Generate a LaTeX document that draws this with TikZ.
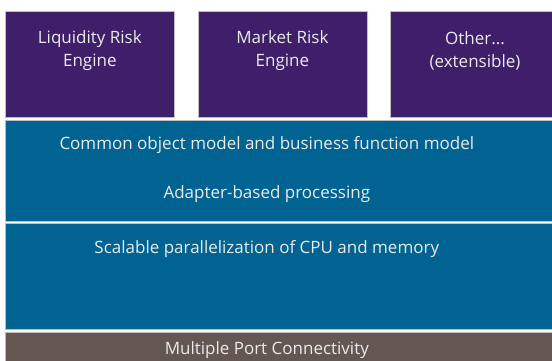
\documentclass[tikz,border=0pt]{standalone}
\usepackage{fontspec}
\setmainfont{Open Sans}
\usetikzlibrary{positioning}
\definecolor{stkpurple}{HTML}{3F1F69}
\definecolor{stkteal}{HTML}{006392}
\definecolor{stkbrown}{HTML}{645650}

\begin{document}
\begin{tikzpicture}[x=1pt,y=1pt,node distance=23pt,
    eng/.style={draw=black!25,fill=stkpurple,line width=.6pt,inner sep=0pt,
      minimum width=169pt,minimum height=106pt},
    layer/.style={draw=black!25,fill=stkteal,line width=.6pt,inner sep=0pt,
      anchor=north west,minimum width=560pt},
    t/.style={text=white!92!black,align=center,inner sep=0pt,
      font=\fontsize{17}{23}\selectfont}]
    \useasboundingbox (0,0) rectangle (552,360);
    \clip (0,0) rectangle (552,360);
    % engines on top
    \node[eng,anchor=north west] (liq) at (5,349) {};
    \node[eng,right=of liq] (mkt) {};
    \node[eng,right=of mkt] (oth) {};
    \node[t] (liqt) at ([yshift=-40pt]liq.north) {Liquidity Risk\\Engine};
    \node[t] (mktt) at ([yshift=-40pt]mkt.north) {Market Risk\\Engine};
    \node[t] (otht) at ([yshift=-40pt]oth.north) {Other...\\(extensible)};
    % shared layers, labels sit a bit left of the layer centre
    \node[layer,minimum height=100.7pt] (model) at (5,240) {};
    \node[layer,minimum height=106pt] (cpu) at (5,136.7) {};
    \node[layer,fill=stkbrown,minimum height=40pt] (port) at (5,28) {};
    \node[t] (modelt) at ([xshift=-18.5pt,yshift=-25pt]model.north) {Common object model and business function model};
    \node[t] (adapt) at ([xshift=-18.5pt,yshift=-74.5pt]model.north) {Adapter-based processing};
    \node[t] (cput) at ([xshift=-18.5pt,yshift=-26pt]cpu.north) {Scalable parallelization of CPU and memory};
    \node[t] (portt) at ([xshift=-18.5pt,yshift=-18pt]port.north) {Multiple Port Connectivity};
\end{tikzpicture}
\end{document}
